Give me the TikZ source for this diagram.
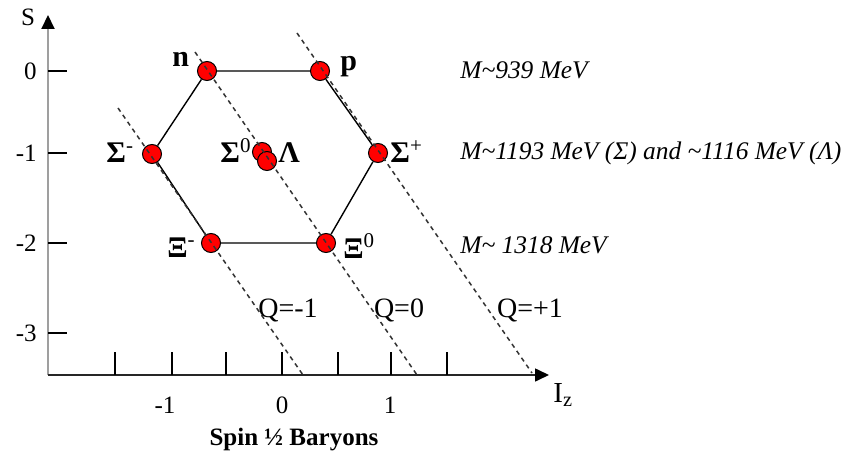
\documentclass[tikz,border=0pt]{standalone}
\usepackage{fontspec}
\setmainfont{Liberation Serif}
\usetikzlibrary{arrows.meta}

\newcommand{\chg}[1]{\textsuperscript{\mdseries #1}}

\tikzset{
  baryon/.style={circle,draw=black,fill=red,line width=0.5pt,minimum size=9.5pt,inner sep=0pt},
  plbl/.style={anchor=base west,inner sep=0pt,font=\fontsize{15}{18}\selectfont\bfseries},
  charge/.style={draw=black!80,line width=0.75pt,dash pattern=on 2.2pt off 2pt},
  qlbl/.style={inner sep=0pt,font=\fontsize{14}{17}\selectfont},
  mass/.style={anchor=west,inner sep=0pt,font=\fontsize{12.7}{15}\selectfont\itshape},
}

\begin{document}
\begin{tikzpicture}[x=0.5pt, y=-0.5pt, font=\fontsize{12.5}{15}\selectfont,
  >={Triangle[length=7pt,width=6.5pt,color=black]}]
\useasboundingbox (0,0) rectangle (845,454);
% axes
\coordinate (O) at (48,375);
\coordinate (Stop) at (48,15);
\coordinate (Iend) at (549,375);
\draw[->,gray!75,line width=1pt] (O) -- (Stop);
\draw[->,black!85,line width=0.8pt] (O) -- (Iend);
\node (S) at (28,17) {S};
\node[anchor=base west,inner sep=0pt,font=\fontsize{14.5}{17}\selectfont] (Iz) at (553,402) {I\textsubscript{z}};
\foreach \y/\lab [count=\i] in {71/0,153/-1,243/-2,333/-3}
  {\draw[line width=0.6pt] (48,\y) -- (67,\y);
   \node[anchor=east,inner sep=0pt] (sl\i) at (37,\y) {\lab};}
\foreach \x in {115,172,226,282,338,391,447}
  \draw[line width=0.6pt] (\x,352) -- (\x,375);
\foreach \x/\lab [count=\i] in {165/-1,282/0,390/1}
  \node (il\i) at (\x,405) {\lab};
% octet
\foreach \p/\x/\y in {n/207/71,p/320/71,sm/152/154,sp/378/153,sz/262/152,lam/267/161,xm/211/243,xz/326/243}
  \node[baryon] (\p) at (\x,\y) {};
\draw[line width=0.7pt] (n) -- (p) -- (sp) -- (xz) -- (xm) -- (sm) -- (n);
\node[plbl] (nl) at (172,67) {n};
\node[plbl] (pl) at (340,71) {p};
\node[plbl] (sml) at (106,163) {Σ\chg{-}};
\node[plbl] (szl) at (220,163) {Σ\chg{0}};
\node[plbl] (laml) at (278,163) {Λ};
\node[plbl] (spl) at (390,163) {Σ\chg{+}};
\node[plbl] (xml) at (167,257) {Ξ\chg{-}};
\node[plbl] (xzl) at (343,258) {Ξ\chg{0}};
% charge lines
\coordinate (qm1a) at (118,108); \coordinate (qm1b) at (303,375);
\coordinate (q0a) at (195,52); \coordinate (q0b) at (417,375);
\coordinate (qp1a) at (297,33); \coordinate (qp1b) at (532,373);
\draw[charge] (qm1a) -- (qm1b);
\draw[charge] (q0a) -- (q0b);
\draw[charge] (qp1a) -- (qp1b);
\node[qlbl] (qm1) at (288,310) {Q=-1};
\node[qlbl] (q0) at (399,310) {Q=0};
\node[qlbl] (qp1) at (530,310) {Q=+1};
% masses
\node[mass] (m1) at (460,70) {M\textasciitilde939 MeV};
\node[mass] (m2) at (460,153) {M\textasciitilde1193 MeV (Σ) and \textasciitilde1116 MeV (Λ)};
\node[mass] (m3) at (460,245) {M\textasciitilde{} 1318 MeV};
\node[font=\fontsize{12.5}{15}\selectfont\bfseries] (title) at (294,440) {Spin ½ Baryons};
\end{tikzpicture}
\end{document}
